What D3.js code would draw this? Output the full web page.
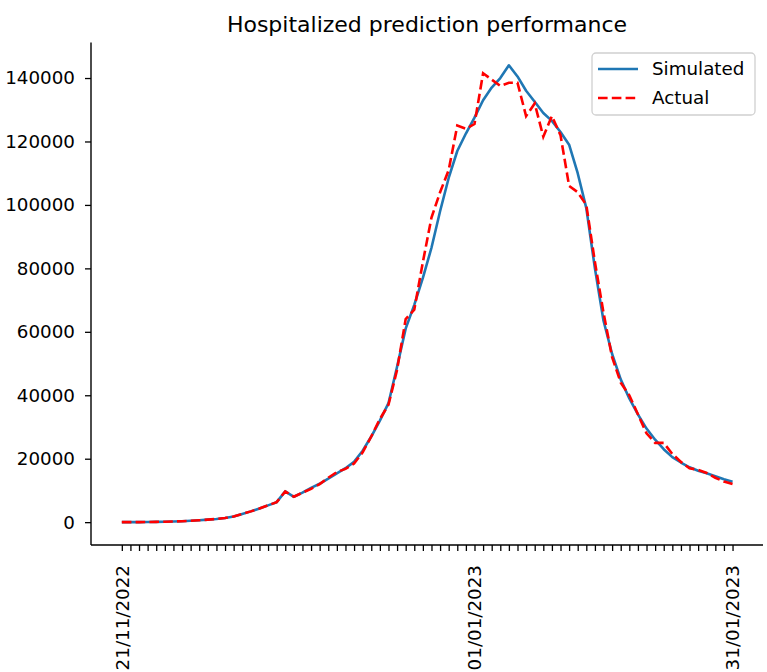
<!DOCTYPE html>
<html lang="en">
  <head>
    <meta charset="utf-8" />
    <title>Hospitalized prediction performance</title>
    <script type="text/javascript" src="https://cdn.jsdelivr.net/npm/d3@7/dist/d3.min.js"></script>
    <style>
      body { margin: 0; background: #ffffff; }
      svg text { font-family: "DejaVu Sans", sans-serif; fill: #000000; }
    </style>
  </head>
  <body>
    <script type="text/javascript">
      // one value per day, 21/11/2022 .. 31/01/2023
      var startDate = new Date(2022, 10, 21);
      var labelDates = ["21/11/2022", "01/01/2023", "31/01/2023"];

      var simulated = [
        0, 0, 0, 50, 100, 150, 200, 300, 450, 600,
        800, 1000, 1300, 1800, 2600, 3400, 4300, 5300, 6300, 9700,
        8000, 9300, 10800, 12100, 13700, 15400, 17000, 19000, 22500, 27000,
        32000, 37500, 49000, 61000, 68500, 77000, 86500, 98000, 108500, 117000,
        122500, 127500, 133000, 137000, 140000, 144000, 140500, 136000, 132500, 129000,
        126500, 123000, 119000, 110000, 99000, 80000, 63500, 53000, 45000, 39000,
        34000, 29500, 26000, 23000, 20500, 18800, 17300, 16200, 15400, 14500,
        13500, 12700
      ];

      var actual = [
        0, 0, 0, 50, 100, 150, 200, 300, 450, 600,
        800, 1000, 1300, 1800, 2600, 3400, 4300, 5300, 6300, 9700,
        8000, 9300, 10500, 12000, 14000, 15800, 16800, 18500, 22000, 27000,
        32500, 37000, 48000, 64000, 67000, 82000, 96000, 104000, 111000, 125000,
        124000, 125500, 141500, 139500, 137500, 138500, 138500, 128000, 132000, 121500,
        128000, 122000, 106000, 104000, 100000, 82000, 66000, 52000, 44000, 40000,
        34000, 28000, 25000, 25000, 21500, 19000, 17000, 16500, 15500, 14000,
        12800, 12000
      ];

      var yTicks = [0, 20000, 40000, 60000, 80000, 100000, 120000, 140000];

      var width = 767, height = 672;
      var plotLeft = 91, plotRight = 763, plotTop = 42.5, plotBottom = 545;
      var fontSize = 18.3;

      var dates = simulated.map(function(d, i) { return d3.timeDay.offset(startDate, i); });
      var fmt = d3.timeFormat("%d/%m/%Y");

      /*~~~~~~~~~~~~~~~~~~~~~~~~~~~~ SCALES (matplotlib style 5% margins) ~~~~~~~~~~~~~~~~~~~~~~~~~~~~*/
      var nDays = dates.length - 1;
      var xScale = d3.scaleTime()
                     .domain([d3.timeHour.offset(startDate, -nDays * 0.05 * 24),
                              d3.timeHour.offset(dates[nDays], nDays * 0.05 * 24)])
                     .range([plotLeft, plotRight]);

      var yMax = d3.max(simulated.concat(actual)), yMin = d3.min(simulated.concat(actual));
      var yPad = (yMax - yMin) * 0.05;
      var yScale = d3.scaleLinear()
                     .domain([yMin - yPad, yMax + yPad])
                     .range([plotBottom, plotTop]);

      var svg = d3.select("body")
                  .append("svg")
                  .attr("width", width)
                  .attr("height", height);

      /*~~~~~~~~~~~~~~~~~~~~~~~~~~~~ TITLE ~~~~~~~~~~~~~~~~~~~~~~~~~~~~*/
      svg.append("text")
         .attr("x", (plotLeft + plotRight) / 2)
         .attr("y", 32)
         .attr("text-anchor", "middle")
         .style("font-size", "22px")
         .text("Hospitalized prediction performance");

      /*~~~~~~~~~~~~~~~~~~~~~~~~~~~~ AXES ~~~~~~~~~~~~~~~~~~~~~~~~~~~~*/
      var yAxis = d3.axisLeft(yScale)
                    .tickValues(yTicks)
                    .tickSize(6)
                    .tickPadding(10)
                    .tickFormat(d3.format("d"));

      var yG = svg.append("g")
                  .attr("transform", "translate(" + plotLeft + ",0)")
                  .call(yAxis);
      yG.selectAll("text").style("font-size", fontSize + "px");

      var xAxis = d3.axisBottom(xScale)
                    .tickValues(dates)
                    .tickSize(6)
                    .tickFormat(function(d) {
                      var s = fmt(d);
                      return labelDates.indexOf(s) >= 0 ? s : "";
                    });

      var xG = svg.append("g")
                  .attr("transform", "translate(0," + plotBottom + ")")
                  .call(xAxis);
      xG.selectAll("text")
        .style("font-size", fontSize + "px")
        .attr("text-anchor", "end")
        .attr("x", 0)
        .attr("y", 0)
        .attr("dy", "0.35em")
        .attr("transform", "translate(0,20) rotate(-90)");

      [yG, xG].forEach(function(g) {
        g.selectAll("line").attr("stroke", "#000").attr("stroke-width", 1.3);
        g.select(".domain").attr("stroke", "#000").attr("stroke-width", 1.4);
      });
      // plain spines, no end caps
      yG.select(".domain").attr("d", "M0," + plotBottom + "V" + plotTop);
      xG.select(".domain").attr("d", "M" + plotLeft + ",0H" + plotRight);

      /*~~~~~~~~~~~~~~~~~~~~~~~~~~~~ LINES ~~~~~~~~~~~~~~~~~~~~~~~~~~~~*/
      var lineFor = function(values) {
        return d3.line()
                 .x(function(d, i) { return xScale(dates[i]); })
                 .y(function(d) { return yScale(d); })(values);
      };

      svg.append("path")
         .attr("d", lineFor(simulated))
         .attr("fill", "none")
         .attr("stroke", "#1f77b4")
         .attr("stroke-width", 2.6)
         .attr("stroke-linejoin", "round");

      svg.append("path")
         .attr("d", lineFor(actual))
         .attr("fill", "none")
         .attr("stroke", "#ff0000")
         .attr("stroke-width", 2.6)
         .attr("stroke-dasharray", "9.6,4.2");

      /*~~~~~~~~~~~~~~~~~~~~~~~~~~~~ LEGEND ~~~~~~~~~~~~~~~~~~~~~~~~~~~~*/
      var legend = svg.append("g").attr("transform", "translate(592,53)");

      legend.append("rect")
            .attr("width", 163)
            .attr("height", 62)
            .attr("rx", 4)
            .attr("ry", 4)
            .attr("fill", "#ffffff")
            .attr("fill-opacity", 0.8)
            .attr("stroke", "#d0d0d0")
            .attr("stroke-width", 1.3);

      var legendItems = [
        { name: "Simulated", color: "#1f77b4", dash: null },
        { name: "Actual", color: "#ff0000", dash: "9.6,4.2" }
      ];

      legendItems.forEach(function(item, i) {
        var ly = 16 + i * 29;
        legend.append("line")
              .attr("x1", 6).attr("x2", 46)
              .attr("y1", ly).attr("y2", ly)
              .attr("stroke", item.color)
              .attr("stroke-width", 2.6)
              .attr("stroke-dasharray", item.dash);
        legend.append("text")
              .attr("x", 60)
              .attr("y", ly)
              .attr("dy", "0.35em")
              .style("font-size", fontSize + "px")
              .text(item.name);
      });
    </script>
  </body>
</html>
